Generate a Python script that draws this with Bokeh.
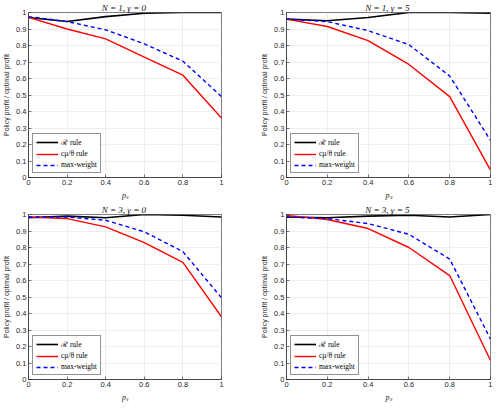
from bokeh.plotting import figure
from bokeh.layouts import gridplot
from bokeh.models import FixedTicker, Legend, LegendItem, Range1d
from bokeh.embed import file_html
from bokeh.resources import INLINE

ps = [0, 0.2, 0.4, 0.6, 0.8, 1]

# N=1, gamma=0
r_n1_g0 = [0.970, 0.945, 0.975, 0.995, 1.000, 1.000]
c_n1_g0 = [0.970, 0.900, 0.840, 0.730, 0.620, 0.360]
m_n1_g0 = [0.975, 0.945, 0.895, 0.810, 0.705, 0.490]
# N=1, gamma=5
r_n1_g5 = [0.960, 0.950, 0.970, 1.000, 1.000, 0.995]
c_n1_g5 = [0.960, 0.915, 0.830, 0.685, 0.490, 0.045]
m_n1_g5 = [0.960, 0.945, 0.890, 0.805, 0.615, 0.225]
# N=3, gamma=0
r_n3_g0 = [0.980, 0.990, 0.980, 1.000, 0.995, 0.985]
c_n3_g0 = [0.985, 0.975, 0.925, 0.830, 0.710, 0.380]
m_n3_g0 = [0.985, 0.985, 0.965, 0.895, 0.775, 0.495]
# N=3, gamma=5
r_n3_g5 = [0.985, 0.980, 0.990, 0.995, 0.985, 1.000]
c_n3_g5 = [0.995, 0.970, 0.915, 0.800, 0.630, 0.115]
m_n3_g5 = [0.985, 0.975, 0.945, 0.880, 0.730, 0.245]

titles = ["N = 1,  \u03b3 = 0", "N = 1,  \u03b3 = 5", "N = 3,  \u03b3 = 0", "N = 3,  \u03b3 = 5"]
series_names = ["\u211b rule", "c\u03bc/\u03b8 rule", "max-weight"]

x_ticks = [0, 0.2, 0.4, 0.6, 0.8, 1]
x_tick_labels = ["0", "0.2", "0.4", "0.6", "0.8", "1"]
y_ticks = [0, 0.1, 0.2, 0.3, 0.4, 0.5, 0.6, 0.7, 0.8, 0.9, 1]
y_tick_labels = ["0", "0.1", "0.2", "0.3", "0.4", "0.5", "0.6", "0.7", "0.8", "0.9", "1"]

panels = [
    (titles[0], r_n1_g0, c_n1_g0, m_n1_g0),
    (titles[1], r_n1_g5, c_n1_g5, m_n1_g5),
    (titles[2], r_n3_g0, c_n3_g0, m_n3_g0),
    (titles[3], r_n3_g5, c_n3_g5, m_n3_g5),
]

AX = "#262626"


def make(idx, title, r, c, m):
    left = idx % 2 == 0
    w = 242 if left else 250
    p = figure(width=w, height=202, x_range=Range1d(0, 1), y_range=Range1d(0, 1),
               output_backend="svg", toolbar_location=None,
               min_border_left=21 if left else 44, min_border_right=21 if left else 2,
               min_border_top=0, min_border_bottom=0)
    p.title.text = title
    p.title.align = "center"
    p.title.text_font = "Liberation Serif"
    p.title.text_font_style = "italic"
    p.title.text_font_size = "9px"
    p.title.text_color = "#111111"
    p.title.standoff = 0
    p.title.offset = 0

    p.outline_line_color = AX
    p.outline_line_width = 0.6
    p.background_fill_color = "white"
    p.border_fill_color = "white"

    for ax, ticks, labs in ((p.xaxis, x_ticks, x_tick_labels), (p.yaxis, y_ticks, y_tick_labels)):
        ax.ticker = FixedTicker(ticks=ticks)
        ax.major_label_overrides = {t: l for t, l in zip(ticks, labs)}
        ax.major_tick_in = 3
        ax.major_tick_out = 0
        ax.minor_tick_line_color = None
        ax.axis_line_color = AX
        ax.axis_line_width = 0.6
        ax.major_tick_line_color = AX
        ax.major_tick_line_width = 0.6
        ax.major_label_text_font = "Liberation Sans"
        ax.major_label_text_font_size = "7.5px"
        ax.major_label_text_color = AX
        ax.major_label_standoff = 2

    p.xaxis.axis_label = "p\u209b"
    p.xaxis.axis_label_text_font = "Liberation Serif"
    p.xaxis.axis_label_text_font_style = "italic"
    p.xaxis.axis_label_text_font_size = "8px"
    p.xaxis.axis_label_standoff = 3
    p.xaxis.axis_label_text_color = AX

    p.yaxis.axis_label = "Policy profit / optimal profit"
    p.yaxis.axis_label_text_font = "Liberation Sans"
    p.yaxis.axis_label_text_font_style = "normal"
    p.yaxis.axis_label_text_font_size = "7px"
    p.yaxis.axis_label_standoff = 3
    p.yaxis.axis_label_text_color = AX

    p.grid.grid_line_color = "#e3e3e3"
    p.grid.grid_line_width = 0.6

    l1 = p.line(ps, r, line_color="black", line_width=1.6)
    l2 = p.line(ps, c, line_color="#ff0000", line_width=1.4)
    l3 = p.line(ps, m, line_color="#0000ff", line_width=1.4, line_dash="4 3")

    leg = Legend(items=[LegendItem(label=series_names[0], renderers=[l1]),
                        LegendItem(label=series_names[1], renderers=[l2]),
                        LegendItem(label=series_names[2], renderers=[l3])],
                 location="bottom_left")
    leg.label_text_font = "Liberation Serif"
    leg.label_text_font_size = "7.5px"
    leg.label_text_color = "#000000"
    leg.label_height = 8
    leg.glyph_height = 8
    leg.glyph_width = 22
    leg.label_standoff = 3
    leg.spacing = 2
    leg.padding = 3
    leg.margin = 4
    leg.border_line_color = AX
    leg.border_line_width = 0.6
    leg.background_fill_alpha = 1.0
    p.add_layout(leg, "center")
    return p


figs = [make(i, *pn) for i, pn in enumerate(panels)]
grid = gridplot([[figs[0], figs[1]], [figs[2], figs[3]]], toolbar_location=None)

open("out.html", "w").write(file_html(grid, INLINE))
